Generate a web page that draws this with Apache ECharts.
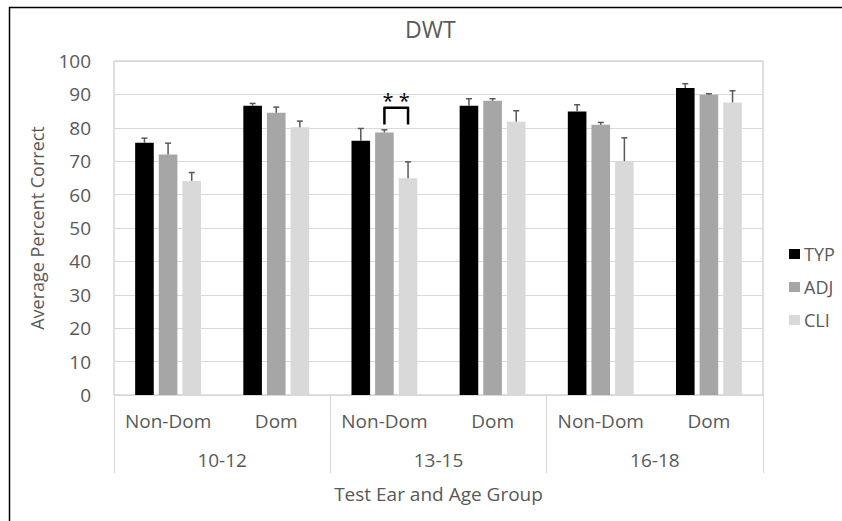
<!DOCTYPE html>
<html>
<head>
<meta charset="utf-8">
<script src="https://cdn.jsdelivr.net/npm/echarts@6/dist/echarts.min.js"></script>
<style>
html,body{margin:0;padding:0;background:#fff;}
#chart{width:842px;height:521px;}
</style>
</head>
<body>
<div id="chart"></div>
<script>
// ---- data ----
const earLabels = ['Non-Dom', 'Dom', 'Non-Dom', 'Dom', 'Non-Dom', 'Dom'];
const ageGroups = ['10-12', '13-15', '16-18'];
const seriesNames = ['TYP', 'ADJ', 'CLI'];
const typValues = [75.5, 86.6, 76.1, 86.6, 84.9, 91.9];
const typErrors = [1.4, 0.7, 3.7, 2.1, 2.0, 1.3];
const adjValues = [72.0, 84.5, 78.6, 88.1, 80.9, 89.9];
const adjErrors = [3.4, 1.7, 0.8, 0.6, 0.7, 0.3];
const cliValues = [64.1, 80.2, 64.9, 81.8, 70.0, 87.6];
const cliErrors = [2.5, 1.8, 4.9, 3.3, 7.0, 3.5];
const yTicks = { min: 0, max: 100, interval: 10 };
// significance bracket: category index, from series, to series, low, high, label
const sigCategory = 2;
const sigFromSeries = 1;
const sigToSeries = 2;
const sigLow = 81;
const sigHigh = 86;
const sigLabel = '* *';

// ---- style ----
const colors = ['#000000', '#a6a6a6', '#d9d9d9'];
const textColor = '#595959';
const FONT = '"Open Sans", sans-serif';
const BAR_W = 0.172;   // fraction of band
const BAR_GAP = 0.27;  // fraction of bar width

const valuesList = [typValues, adjValues, cliValues];
const errorsList = [typErrors, adjErrors, cliErrors];

function barOffset(band, s) {
  const w = band * BAR_W;
  return (s - 1) * w * (1 + BAR_GAP);
}

const chart = echarts.init(document.getElementById('chart'), null, { renderer: 'svg' });

const series = [];
seriesNames.forEach((name, s) => {
  series.push({
    name: name,
    type: 'bar',
    xAxisIndex: 0,
    data: valuesList[s],
    barWidth: (BAR_W * 100) + '%',
    barGap: (BAR_GAP * 100) + '%',
    itemStyle: { color: colors[s] },
    emphasis: { disabled: true },
    z: 2
  });
});
seriesNames.forEach((name, s) => {
  series.push({
    name: name + '-err',
    type: 'custom',
    xAxisIndex: 0,
    z: 5,
    silent: true,
    data: valuesList[s].map((v, i) => [i, v, errorsList[s][i]]),
    renderItem: function (params, api) {
      const band = api.size([1, 0])[0];
      const base = api.coord([api.value(0), api.value(1)]);
      const top = api.coord([api.value(0), api.value(1) + api.value(2)]);
      const x = base[0] + barOffset(band, s);
      const cap = 3;
      const st = { stroke: '#595959', lineWidth: 1.5 };
      return {
        type: 'group',
        children: [
          { type: 'line', shape: { x1: x, y1: base[1], x2: x, y2: top[1] }, style: st },
          { type: 'line', shape: { x1: x - cap, y1: top[1], x2: x + cap, y2: top[1] }, style: st }
        ]
      };
    }
  });
});
series.push({
  name: 'sig',
  type: 'custom',
  xAxisIndex: 0,
  z: 6,
  silent: true,
  data: [[sigCategory, sigLow, sigHigh]],
  renderItem: function (params, api) {
    const band = api.size([1, 0])[0];
    const low = api.coord([api.value(0), api.value(1)]);
    const high = api.coord([api.value(0), api.value(2)]);
    const x1 = low[0] + barOffset(band, sigFromSeries);
    const x2 = low[0] + barOffset(band, sigToSeries);
    return {
      type: 'group',
      children: [
        {
          type: 'polyline',
          shape: { points: [[x1, low[1]], [x1, high[1]], [x2, high[1]], [x2, low[1]]] },
          style: { stroke: '#000', lineWidth: 2.5, fill: null, lineJoin: 'round' }
        },
        {
          type: 'text',
          style: {
            x: (x1 + x2) / 2, y: high[1] + 3, text: sigLabel,
            align: 'center', verticalAlign: 'bottom',
            font: '20px ' + FONT, fill: '#000'
          }
        }
      ]
    };
  }
});

chart.setOption({
  animation: false,
  backgroundColor: '#fff',
  textStyle: { fontFamily: FONT },
  grid: { left: 114, right: 79, top: 61, bottom: 126, show: true, borderColor: '#bfbfbf', borderWidth: 1, containLabel: false },
  legend: {
    data: seriesNames,
    orient: 'vertical',
    left: 784,
    top: 240,
    itemWidth: 11,
    itemHeight: 10,
    itemGap: 15,
    icon: 'rect',
    textStyle: { color: textColor, fontSize: 18, fontFamily: FONT, padding: [0, 0, 0, -1] },
    selectedMode: false
  },
  graphic: [
    { type: 'text', left: 405, top: 17, style: { text: 'DWT', font: '23px ' + FONT, fill: textColor } },
    { type: 'line', shape: { x1: 9.5, y1: 7, x2: 9.5, y2: 521 }, style: { stroke: '#000', lineWidth: 1.5 } },
    { type: 'line', shape: { x1: 9, y1: 7.5, x2: 842, y2: 7.5 }, style: { stroke: '#000', lineWidth: 1.5 } }
  ],
  xAxis: [
    {
      type: 'category',
      data: earLabels,
      position: 'bottom',
      axisLine: { show: true, lineStyle: { color: '#d9d9d9', width: 1 } },
      axisTick: { show: false },
      axisLabel: { color: textColor, fontSize: 19, margin: 16, interval: 0, fontFamily: FONT },
      splitLine: { show: false }
    },
    {
      type: 'category',
      data: ageGroups,
      position: 'bottom',
      offset: 0,
      axisLine: { show: false },
      axisTick: { show: true, length: 78, lineStyle: { color: '#d9d9d9', width: 1 } },
      axisLabel: { color: textColor, fontSize: 19, margin: 55, interval: 0, fontFamily: FONT },
      name: 'Test Ear and Age Group',
      nameLocation: 'middle',
      nameGap: 89,
      nameTextStyle: { color: textColor, fontSize: 19, fontFamily: FONT, verticalAlign: 'top' },
      splitLine: { show: false }
    }
  ],
  yAxis: {
    type: 'value',
    min: yTicks.min,
    max: yTicks.max,
    interval: yTicks.interval,
    axisLine: { show: false },
    axisTick: { show: false },
    axisLabel: { color: textColor, fontSize: 19, margin: 23, fontFamily: FONT },
    splitLine: { lineStyle: { color: '#d9d9d9', width: 1 } },
    name: 'Average Percent Correct',
    nameLocation: 'middle',
    nameGap: 68,
    nameTextStyle: { color: textColor, fontSize: 18, fontFamily: FONT }
  },
  series: series
});
</script>
</body>
</html>
